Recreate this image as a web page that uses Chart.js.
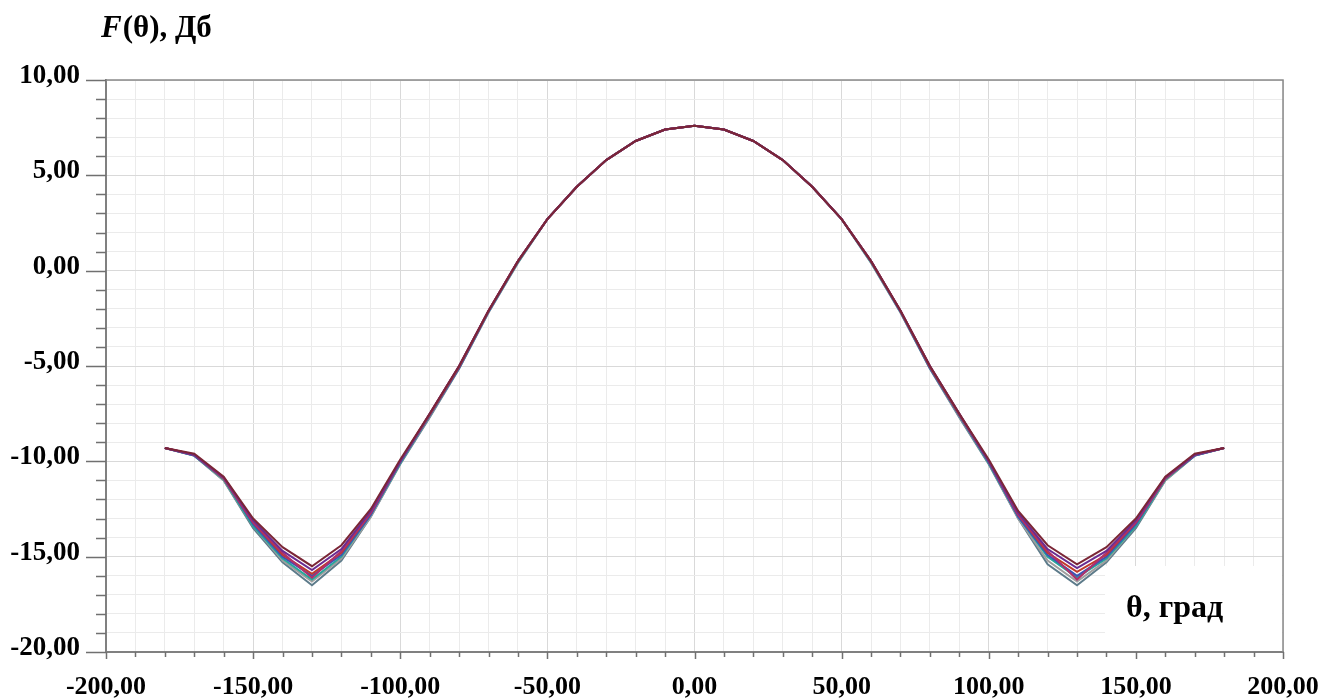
<!DOCTYPE html>
<html>
<head>
<meta charset="utf-8">
<title>F(θ), Дб</title>
<script src="https://cdn.jsdelivr.net/npm/chart.js@4/dist/chart.umd.min.js"></script>
<style>
  html, body { margin: 0; padding: 0; background: #fff; }
  #wrap { width: 1324px; height: 700px; }
</style>
</head>
<body>
<div id="wrap"><canvas id="pattern" width="1324" height="700"></canvas></div>
<script>
// Диаграмма направленности, θ от -180 до 180 с шагом 10
const theta = [-180, -170, -160, -150, -140, -130, -120, -110, -100, -90, -80, -70, -60, -50, -40, -30, -20, -10,
  0, 10, 20, 30, 40, 50, 60, 70, 80, 90, 100, 110, 120, 130, 140, 150, 160, 170, 180];

const seriesA = [-9.3, -9.6, -10.8, -13.0, -14.5, -15.5, -14.4, -12.5, -9.9, -7.5, -5.0, -2.1, 0.5, 2.7, 4.4, 5.8, 6.8, 7.4,
  7.6, 7.4, 6.8, 5.8, 4.4, 2.7, 0.5, -2.1, -5.0, -7.5, -9.9, -12.6, -14.4, -15.4, -14.5, -13.0, -10.8, -9.6, -9.3];
const seriesB = [-9.3, -9.65, -10.85, -13.1, -14.7, -15.7, -14.6, -12.6, -10.0, -7.5, -5.0, -2.1, 0.5, 2.7, 4.4, 5.8, 6.8, 7.4,
  7.6, 7.4, 6.8, 5.8, 4.4, 2.7, 0.5, -2.1, -5.0, -7.5, -10.0, -12.7, -14.6, -15.6, -14.7, -13.1, -10.85, -9.65, -9.3];
const seriesC = [-9.3, -9.65, -10.9, -13.2, -14.9, -15.9, -14.8, -12.7, -10.0, -7.55, -5.05, -2.1, 0.5, 2.7, 4.4, 5.8, 6.8, 7.4,
  7.6, 7.4, 6.8, 5.8, 4.4, 2.7, 0.5, -2.1, -5.05, -7.55, -10.0, -12.8, -14.8, -15.8, -14.9, -13.2, -10.9, -9.65, -9.3];
const seriesD = [-9.3, -9.7, -10.9, -13.3, -15.0, -16.0, -14.9, -12.8, -10.05, -7.6, -5.1, -2.15, 0.5, 2.7, 4.4, 5.8, 6.8, 7.4,
  7.6, 7.4, 6.8, 5.8, 4.4, 2.7, 0.5, -2.15, -5.1, -7.6, -10.05, -12.9, -14.9, -16.0, -15.0, -13.3, -10.9, -9.7, -9.3];
const seriesE = [-9.3, -9.7, -10.95, -13.4, -15.1, -16.2, -15.0, -12.8, -10.1, -7.6, -5.1, -2.15, 0.45, 2.7, 4.4, 5.8, 6.8, 7.4,
  7.6, 7.4, 6.8, 5.8, 4.4, 2.7, 0.45, -2.15, -5.1, -7.6, -10.1, -12.9, -15.0, -16.1, -15.1, -13.4, -10.95, -9.7, -9.3];
const seriesF = [-9.3, -9.7, -11.0, -13.4, -15.2, -16.3, -15.1, -12.9, -10.1, -7.65, -5.1, -2.2, 0.45, 2.7, 4.4, 5.8, 6.8, 7.4,
  7.6, 7.4, 6.8, 5.8, 4.4, 2.7, 0.45, -2.2, -5.1, -7.65, -10.1, -13.0, -15.2, -16.3, -15.2, -13.4, -11.0, -9.7, -9.3];
const seriesG = [-9.3, -9.7, -11.0, -13.5, -15.3, -16.5, -15.2, -12.9, -10.15, -7.7, -5.15, -2.2, 0.4, 2.7, 4.4, 5.8, 6.8, 7.4,
  7.6, 7.4, 6.8, 5.8, 4.4, 2.7, 0.4, -2.2, -5.15, -7.7, -10.15, -13.0, -15.4, -16.5, -15.3, -13.5, -11.0, -9.7, -9.3];
const seriesH = [-9.3, -9.65, -10.9, -13.2, -14.8, -16.1, -14.7, -12.7, -10.0, -7.5, -5.0, -2.1, 0.5, 2.7, 4.4, 5.8, 6.8, 7.4,
  7.6, 7.4, 6.8, 5.8, 4.4, 2.7, 0.5, -2.1, -5.0, -7.5, -10.0, -12.8, -14.7, -16.2, -14.8, -13.2, -10.9, -9.65, -9.3];

// первый набор рисуется поверх остальных
const curves = [seriesA, seriesB, seriesH, seriesC, seriesD, seriesE, seriesF, seriesG];
const colors = ['#7b2636', '#6a2c91', '#b0306a', '#c0392b', '#3f51b5', '#26a69a', '#9e9e9e', '#5d7b8a'];

const yTicks = [-20, -15, -10, -5, 0, 5, 10];
const xTicks = [-200, -150, -100, -50, 0, 50, 100, 150, 200];

const SERIF = "'Liberation Serif', 'Times New Roman', serif";
const fmt = v => v.toFixed(2).replace('.', ',');

// засечки осей и подписи поверх холста
const decor = {
  id: 'decor',
  afterDraw(chart) {
    const { ctx, chartArea: a, scales: { x, y } } = chart;
    ctx.save();

    // рамка сверху и справа
    ctx.strokeStyle = '#8a8a8a';
    ctx.lineWidth = 1.5;
    ctx.beginPath();
    ctx.moveTo(a.left, a.top);
    ctx.lineTo(a.right, a.top);
    ctx.lineTo(a.right, a.bottom);
    ctx.stroke();

    // засечки: по y каждые 1, по x каждые 10
    ctx.strokeStyle = '#707070';
    ctx.lineWidth = 1.5;
    ctx.beginPath();
    for (let v = -20; v <= 10; v++) {
      const py = Math.round(y.getPixelForValue(v)) + 0.5;
      const len = v % 5 === 0 ? 20 : 10;
      ctx.moveTo(a.left - len, py);
      ctx.lineTo(a.left, py);
    }
    for (let v = -200; v <= 200; v += 10) {
      const px = Math.round(x.getPixelForValue(v)) + 0.5;
      const len = v % 50 === 0 ? 7 : 5;
      ctx.moveTo(px, a.bottom);
      ctx.lineTo(px, a.bottom + len);
    }
    ctx.stroke();

    // заголовок оси y
    ctx.fillStyle = '#000';
    ctx.textBaseline = 'alphabetic';
    ctx.textAlign = 'left';
    ctx.font = `italic bold 31px ${SERIF}`;
    ctx.fillText('F', 101, 37);
    const w = ctx.measureText('F').width;
    ctx.font = `bold 31px ${SERIF}`;
    ctx.fillText('(θ), Дб', 101 + w + 1, 37);

    // подпись оси x на белой подложке
    ctx.fillStyle = '#fff';
    ctx.fillRect(1105, 566, a.right - 1106, a.bottom - 567);
    ctx.fillStyle = '#000';
    ctx.font = `bold 32px ${SERIF}`;
    ctx.fillText('θ, град', 1126, 617);

    ctx.restore();
  }
};

const gridColor = ctx => (ctx.tick && ctx.tick.major) ? '#d9d9d9' : '#ebebeb';

new Chart(document.getElementById('pattern'), {
  type: 'line',
  data: {
    labels: theta,
    datasets: curves.map((data, i) => ({
      data: theta.map((t, j) => ({ x: t, y: data[j] })),
      borderColor: colors[i],
      borderWidth: 2,
      pointRadius: 0,
      tension: 0,
      fill: false
    }))
  },
  options: {
    responsive: false,
    devicePixelRatio: 1,
    animation: false,
    layout: { padding: { top: 80, right: 41, left: 0, bottom: 0 } },
    plugins: { legend: { display: false }, tooltip: { enabled: false } },
    scales: {
      x: {
        type: 'linear',
        min: -200,
        max: 200,
        afterFit: s => { s.height = 48; s.paddingLeft = 0; s.paddingRight = 0; },
        afterBuildTicks: s => { s.ticks.forEach(t => { t.major = t.value % 50 === 0; }); },
        ticks: {
          stepSize: 10,
          autoSkip: false,
          maxRotation: 0,
          padding: 20,
          color: '#000',
          font: { family: SERIF, size: 26, weight: 'bold' },
          callback: v => xTicks.includes(v) ? fmt(v) : ''
        },
        grid: { color: gridColor, lineWidth: 1, drawTicks: false },
        border: { color: '#808080', width: 2 }
      },
      y: {
        min: -20,
        max: 10,
        afterFit: s => { s.width = 106; s.paddingTop = 0; s.paddingBottom = 0; },
        afterBuildTicks: s => { s.ticks.forEach(t => { t.major = t.value % 5 === 0; }); },
        ticks: {
          stepSize: 1,
          autoSkip: false,
          padding: 26,
          labelOffset: -4,
          color: '#000',
          font: { family: SERIF, size: 27, weight: 'bold' },
          callback: v => yTicks.includes(v) ? fmt(v) : ''
        },
        grid: { color: gridColor, lineWidth: 1, drawTicks: false },
        border: { color: '#808080', width: 2 }
      }
    }
  },
  plugins: [decor]
});
</script>
</body>
</html>
